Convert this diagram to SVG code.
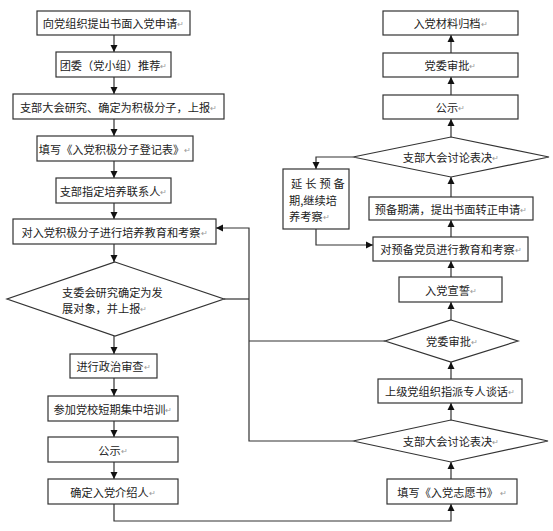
<svg xmlns="http://www.w3.org/2000/svg" width="553" height="531" viewBox="0 0 553 531">
<defs>
<marker id="ah" markerWidth="8" markerHeight="8" refX="7" refY="4" orient="auto" markerUnits="userSpaceOnUse">
<path d="M0,0.5 L7,4 L0,7.5 Z" fill="#111"/>
</marker>
<style>
.b{fill:#fff;stroke:#333;stroke-width:1.2}
.t{font-family:"Noto Sans CJK SC","Noto Sans CJK JP",sans-serif;font-size:11.2px;fill:#222;text-anchor:middle;dominant-baseline:central}
.l{text-anchor:start}
.r{fill:#999;font-size:8px}
.c{fill:none;stroke:#333;stroke-width:1.2}
</style>
</defs>
<rect width="553" height="531" fill="#fff"/>
<g id="connectors">
<line class="c" x1="114" y1="35" x2="114" y2="52" marker-end="url(#ah)"/>
<line class="c" x1="114" y1="77" x2="114" y2="94" marker-end="url(#ah)"/>
<line class="c" x1="114" y1="119" x2="114" y2="136" marker-end="url(#ah)"/>
<line class="c" x1="114" y1="161" x2="114" y2="178" marker-end="url(#ah)"/>
<line class="c" x1="114" y1="203" x2="114" y2="219" marker-end="url(#ah)"/>
<line class="c" x1="114" y1="244" x2="114" y2="262" marker-end="url(#ah)"/>
<line class="c" x1="114" y1="336" x2="114" y2="354" marker-end="url(#ah)"/>
<line class="c" x1="114" y1="378" x2="114" y2="396" marker-end="url(#ah)"/>
<line class="c" x1="114" y1="421" x2="114" y2="437" marker-end="url(#ah)"/>
<line class="c" x1="114" y1="462" x2="114" y2="479" marker-end="url(#ah)"/>
<polyline class="c" points="114,504 114,521 451,521 451,504" marker-end="url(#ah)"/>
<line class="c" x1="451" y1="479" x2="451" y2="462" marker-end="url(#ah)"/>
<line class="c" x1="451" y1="420" x2="451" y2="403" marker-end="url(#ah)"/>
<line class="c" x1="451" y1="379" x2="451" y2="362" marker-end="url(#ah)"/>
<line class="c" x1="451" y1="320" x2="451" y2="302" marker-end="url(#ah)"/>
<line class="c" x1="451" y1="277" x2="451" y2="261" marker-end="url(#ah)"/>
<line class="c" x1="451" y1="237" x2="451" y2="220" marker-end="url(#ah)"/>
<line class="c" x1="451" y1="197" x2="451" y2="177" marker-end="url(#ah)"/>
<line class="c" x1="451" y1="137" x2="451" y2="119" marker-end="url(#ah)"/>
<line class="c" x1="451" y1="95" x2="451" y2="77" marker-end="url(#ah)"/>
<line class="c" x1="451" y1="53" x2="451" y2="35" marker-end="url(#ah)"/>
<polyline class="c" points="224,299 249,299"/>
<polyline class="c" points="353,441 249,441 249,228 216,228" marker-end="url(#ah)"/>
<line class="c" x1="249" y1="341" x2="385" y2="341"/>
<polyline class="c" points="353,157 316,157 316,169" marker-end="url(#ah)"/>
<polyline class="c" points="316,229 316,245 373,245" marker-end="url(#ah)"/>
</g>
<g id="n1"><rect class="b" x="37" y="11" width="153" height="24"/><text class="t" x="113.5" y="23">向党组织提出书面入党申请<tspan class="r">↵</tspan></text></g>
<g id="n2"><rect class="b" x="56" y="52" width="115" height="25"/><text class="t" x="113.5" y="64.5">团委（党小组）推荐<tspan class="r">↵</tspan></text></g>
<g id="n3"><rect class="b" x="13" y="94" width="211" height="25"/><text class="t" x="118.5" y="106.5">支部大会研究、确定为积极分子，上报<tspan class="r">↵</tspan></text></g>
<g id="n4"><rect class="b" x="37" y="136" width="156" height="25"/><text class="t" x="115" y="148.5">填写《入党积极分子登记表》<tspan class="r">↵</tspan></text></g>
<g id="n5"><rect class="b" x="56" y="178" width="115" height="25"/><text class="t" x="113.5" y="190.5">支部指定培养联系人<tspan class="r">↵</tspan></text></g>
<g id="n6"><rect class="b" x="13" y="219" width="203" height="25"/><text class="t" x="114.5" y="231.5">对入党积极分子进行培养教育和考察<tspan class="r">↵</tspan></text></g>
<g id="n7"><polygon class="b" points="115,262 224,299 115,336 7,299"/><text class="t l" x="62" y="292">支委会研究确定为发</text><text class="t l" x="62" y="308">展对象，并上报<tspan class="r">↵</tspan></text></g>
<g id="n8"><rect class="b" x="70" y="354" width="87" height="24"/><text class="t" x="113.5" y="366">进行政治审查<tspan class="r">↵</tspan></text></g>
<g id="n9"><rect class="b" x="48" y="396" width="130" height="25"/><text class="t" x="113" y="408.5">参加党校短期集中培训<tspan class="r">↵</tspan></text></g>
<g id="n10"><rect class="b" x="48" y="437" width="130" height="25"/><text class="t" x="113" y="449.5">公示<tspan class="r">↵</tspan></text></g>
<g id="n11"><rect class="b" x="48" y="479" width="130" height="25"/><text class="t" x="113" y="491.5">确定入党介绍人<tspan class="r">↵</tspan></text></g>
<g id="r1"><rect class="b" x="383" y="11" width="135" height="24"/><text class="t" x="450.5" y="23">入党材料归档<tspan class="r">↵</tspan></text></g>
<g id="r2"><rect class="b" x="383" y="53" width="135" height="24"/><text class="t" x="450.5" y="65">党委审批<tspan class="r">↵</tspan></text></g>
<g id="r3"><rect class="b" x="383" y="95" width="135" height="24"/><text class="t" x="450.5" y="107">公示<tspan class="r">↵</tspan></text></g>
<g id="r4"><polygon class="b" points="451,137 549,157 451,177 353,157"/><text class="t" x="451" y="157">支部大会讨论表决<tspan class="r">↵</tspan></text></g>
<g id="r4b"><rect class="b" x="283" y="169" width="66" height="60"/><text class="t l" x="291" y="183" letter-spacing="3">延长预备</text><text class="t l" x="289" y="199.5">期,继续培</text><text class="t l" x="289" y="216">养考察<tspan class="r">↵</tspan></text></g>
<g id="r5"><rect class="b" x="369" y="197" width="164" height="23"/><text class="t" x="451" y="208.5">预备期满，提出书面转正申请<tspan class="r">↵</tspan></text></g>
<g id="r6"><rect class="b" x="373" y="237" width="155" height="24"/><text class="t" x="451" y="249">对预备党员进行教育和考察<tspan class="r">↵</tspan></text></g>
<g id="r7"><rect class="b" x="399" y="277" width="103" height="25"/><text class="t" x="451" y="289.5">入党宣誓<tspan class="r">↵</tspan></text></g>
<g id="r8"><polygon class="b" points="451,320 518,341 451,362 385,341"/><text class="t" x="452" y="341">党委审批<tspan class="r">↵</tspan></text></g>
<g id="r9"><rect class="b" x="378" y="379" width="144" height="24"/><text class="t" x="450" y="391">上级党组织指派专人谈话<tspan class="r">↵</tspan></text></g>
<g id="r10"><polygon class="b" points="451,420 548,441 451,462 353,441"/><text class="t" x="451" y="441">支部大会讨论表决<tspan class="r">↵</tspan></text></g>
<g id="r11"><rect class="b" x="387" y="479" width="130" height="25"/><text class="t" x="452" y="491.5">填写《入党志愿书》<tspan class="r"> ↵</tspan></text></g>
</svg>
